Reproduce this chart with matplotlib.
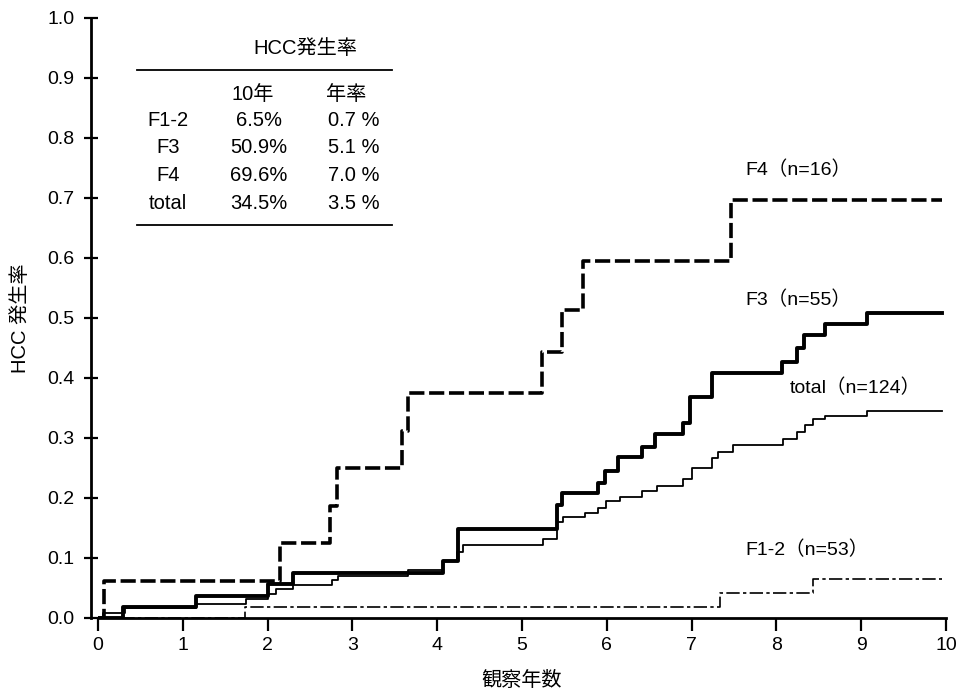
import matplotlib.pyplot as plt

plt.rcParams['font.family'] = ['Liberation Sans', 'Noto Sans CJK JP']

# step curves (time in years, cumulative incidence)
f4_t = [0, 0.07, 2.15, 2.74, 2.82, 3.58, 3.66, 5.23, 5.47, 5.72, 7.47, 9.95]
f4_y = [0, 0.0625, 0.125, 0.1875, 0.25, 0.3125, 0.375, 0.443, 0.513, 0.595, 0.697, 0.697]

f3_t = [0, 0.30, 1.16, 2.00, 2.30, 4.07, 4.25, 5.41, 5.47, 5.90, 5.98, 6.13, 6.41,
        6.57, 6.90, 6.98, 7.24, 8.07, 8.24, 8.32, 8.57, 9.07, 9.95]
f3_y = [0, 0.018, 0.037, 0.056, 0.075, 0.095, 0.148, 0.188, 0.208, 0.225, 0.245, 0.268, 0.285,
        0.307, 0.325, 0.368, 0.408, 0.427, 0.450, 0.472, 0.490, 0.509, 0.509]

tot_t = [0, 0.06, 0.32, 1.16, 1.75, 2.00, 2.10, 2.30, 2.76, 2.83, 3.66, 4.07, 4.23, 4.30,
         5.25, 5.41, 5.48, 5.74, 5.90, 5.99, 6.16, 6.41, 6.59, 6.90, 7.00, 7.24, 7.31,
         7.49, 8.08, 8.24, 8.34, 8.43, 8.57, 9.07, 9.95]
tot_y = [0, 0.008, 0.016, 0.024, 0.032, 0.040, 0.048, 0.055, 0.063, 0.070, 0.080, 0.095, 0.110, 0.122,
         0.132, 0.160, 0.168, 0.175, 0.183, 0.195, 0.202, 0.212, 0.220, 0.232, 0.250, 0.267, 0.277,
         0.288, 0.298, 0.310, 0.322, 0.331, 0.337, 0.345, 0.345]

f12_t = [0, 1.73, 7.33, 8.43, 9.95]
f12_y = [0, 0.019, 0.042, 0.065, 0.065]

labels = ['F4（n=16）', 'F3（n=55）', 'total（n=124）', 'F1-2（n=53）']
label_pos = [(7.63, 0.747), (7.63, 0.53), (8.16, 0.383), (7.63, 0.113)]

tbl_rows = ['F1-2', 'F3', 'F4', 'total']
tbl_10y = ['6.5%', '50.9%', '69.6%', '34.5%']
tbl_rate = ['0.7 %', '5.1 %', '7.0 %', '3.5 %']

fig = plt.figure(figsize=(9.64, 6.97), dpi=100)
ax = fig.add_axes([98 / 964, 79 / 697, 848 / 964, 600 / 697])

ax.step(f4_t, f4_y, where='post', color='black', lw=2.6, ls=(0, (4.2, 1.3)))
ax.step(f3_t, f3_y, where='post', color='black', lw=2.8)
ax.step(tot_t, tot_y, where='post', color='black', lw=1.3)
ax.step(f12_t, f12_y, where='post', color='black', lw=1.2, ls=(0, (8, 2, 2, 2)))

for txt, (x, y) in zip(labels, label_pos):
    ax.text(x, y, txt, fontsize=14, ha='left', va='center')

ax.set_xlim(0, 10)
ax.set_ylim(0, 1.0)
ax.set_xticks(range(11))
ax.set_yticks([i / 10 for i in range(11)])
ax.set_yticklabels([f'{i / 10:.1f}' for i in range(11)])
ax.spines['top'].set_visible(False)
ax.spines['right'].set_visible(False)
ax.spines['left'].set_position(('outward', 5))
ax.spines['left'].set_linewidth(2)
ax.spines['bottom'].set_linewidth(2)
ax.tick_params(axis='y', direction='inout', length=10, width=1.6, pad=7, labelsize=14)
ax.tick_params(axis='x', direction='out', length=9, width=1.6, pad=5, labelsize=14)
ax.set_ylabel('HCC 発生率', fontsize=14.5, labelpad=12)
ax.set_xlabel('観察年数', fontsize=14.5, labelpad=12)

# summary table in the upper left
def px(xp, yp):
    return ((xp - 98) / 848, (618 - yp) / 600)

ax.text(*px(305, 48), 'HCC発生率', transform=ax.transAxes, ha='center', va='center', fontsize=14.5)
for yp in (70, 225):
    x0, y0 = px(137, yp)
    x1, _ = px(392, yp)
    ax.plot([x0, x1], [y0, y0], transform=ax.transAxes, color='black', lw=1.3, clip_on=False)
ax.text(*px(253, 94), '10年', transform=ax.transAxes, ha='center', va='center', fontsize=14.5)
ax.text(*px(346, 94), '年率', transform=ax.transAxes, ha='center', va='center', fontsize=14.5)
for i, (r, a, b) in enumerate(zip(tbl_rows, tbl_10y, tbl_rate)):
    yp = 120 + i * 27.7
    ax.text(*px(168, yp), r, transform=ax.transAxes, ha='center', va='center', fontsize=14.5)
    ax.text(*px(259, yp), a, transform=ax.transAxes, ha='center', va='center', fontsize=14.5)
    ax.text(*px(354, yp), b, transform=ax.transAxes, ha='center', va='center', fontsize=14.5)

fig.savefig('out.png', dpi=100)
